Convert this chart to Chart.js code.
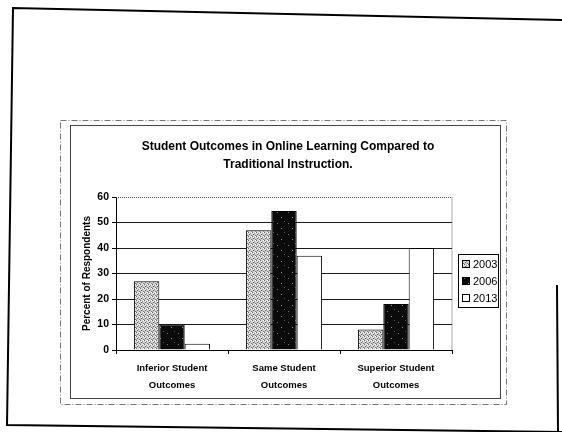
<!DOCTYPE html>
<html>
<head>
<meta charset="utf-8">
<script src="https://cdn.jsdelivr.net/npm/chart.js@4.4.1/dist/chart.umd.min.js"></script>
<style>
    html, body { margin: 0; padding: 0; background: #fff; }
    #outcomesChart { display: block; }
</style>
</head>
<body>
<canvas id="outcomesChart" width="562" height="432"></canvas>
<script>
// Survey results, percent of respondents per year
const categories = [
    ['Inferior Student', 'Outcomes'],
    ['Same Student', 'Outcomes'],
    ['Superior Student', 'Outcomes']
];
const years = ['2003', '2006', '2013'];
const values2003 = [27, 47, 8];
const values2006 = [10, 54.5, 18];
const values2013 = [2.5, 37, 40];
const yTicks = { min: 0, max: 60, step: 10 };
const titleLines = ['Student Outcomes in Online Learning Compared to', 'Traditional Instruction.'];

const FONT = '"Liberation Sans", Arial, sans-serif';

function makePattern(base, dots, size) {
    const c = document.createElement('canvas');
    c.width = size;
    c.height = size;
    const g = c.getContext('2d');
    g.fillStyle = base;
    g.fillRect(0, 0, size, size);
    dots.forEach(([x, y, col]) => {
        g.fillStyle = col;
        g.fillRect(x, y, 1, 1);
    });
    return g.createPattern(c, 'repeat');
}

const ctx = document.getElementById('outcomesChart').getContext('2d');

// stippled grey for 2003, near-black with specks for 2006
const fill2003 = makePattern('#d8d8d8', [
    [0, 0, '#666'], [2, 1, '#888'], [1, 2, '#555'], [3, 3, '#777'],
    [3, 0, '#fff'], [1, 1, '#fff'], [0, 3, '#aaa'], [2, 2, '#bbb']
], 4);
const fill2006 = makePattern('#0b0b0b', [[2, 3, '#777'], [6, 8, '#999'], [9, 1, '#555']], 11);
const fills = [fill2003, fill2006, '#ffffff'];

const framePlugin = {
    id: 'frames',
    beforeDraw(chart) {
        const g = chart.ctx;
        g.save();
        g.fillStyle = '#fff';
        g.fillRect(0, 0, chart.width, chart.height);

        // outer page border
        g.strokeStyle = '#000';
        g.lineWidth = 2;
        g.beginPath();
        g.moveTo(562, 20);
        g.lineTo(13, 8);
        g.lineTo(7, 425);
        g.lineTo(562, 432);
        g.moveTo(557, 285);
        g.lineTo(558, 432);
        g.stroke();

        // chart object borders
        g.lineWidth = 1;
        g.strokeStyle = '#777';
        g.setLineDash([6, 2, 1, 2]);
        g.strokeRect(60.5, 120.5, 446, 284);
        g.setLineDash([]);
        g.strokeStyle = '#444';
        g.strokeRect(70.5, 125.5, 430, 273);
        g.restore();
    },
    afterDatasetsDraw(chart) {
        const a = chart.chartArea;
        const g = chart.ctx;
        g.save();
        g.strokeStyle = '#555';
        g.lineWidth = 1;
        g.setLineDash([1, 1]);
        g.beginPath();
        g.moveTo(a.left, Math.round(a.top) + 0.5);
        g.lineTo(a.right, Math.round(a.top) + 0.5);
        g.lineTo(a.right, a.bottom);
        g.stroke();
        g.restore();
    },
    afterDraw(chart) {
        const g = chart.ctx;
        g.save();
        g.fillStyle = '#000';
        g.textAlign = 'center';
        g.textBaseline = 'middle';
        g.font = 'bold 12px ' + FONT;
        titleLines.forEach((t, i) => g.fillText(t, 288, 147 + i * 18));

        // legend
        g.strokeStyle = '#000';
        g.lineWidth = 1;
        g.strokeRect(458.5, 254.5, 40, 53);
        g.font = '11px ' + FONT;
        g.textAlign = 'left';
        chart.data.datasets.forEach((ds, i) => {
            const y = 264 + i * 17;
            g.fillStyle = ds.backgroundColor;
            g.fillRect(462, y - 4, 8, 8);
            g.strokeRect(462.5, y - 3.5, 7, 7);
            g.fillStyle = '#000';
            g.fillText(ds.label, 473, y + 1);
        });
        g.restore();
    }
};

const datasets = [values2003, values2006, values2013].map((vals, i) => ({
    label: years[i],
    data: vals,
    backgroundColor: fills[i],
    borderColor: '#000',
    borderWidth: 1,
    borderSkipped: 'bottom',
    categoryPercentage: 0.68,
    barPercentage: 1
}));

new Chart(ctx, {
    type: 'bar',
    data: { labels: categories, datasets },
    options: {
        responsive: false,
        animation: false,
        devicePixelRatio: 1,
        layout: { padding: { left: 81, top: 197, right: 110, bottom: 32 } },
        plugins: {
            legend: { display: false },
            tooltip: { enabled: false }
        },
        scales: {
            x: {
                offset: true,
                grid: { drawOnChartArea: false, tickLength: 4, tickColor: '#000' },
                border: { color: '#000', width: 1 },
                ticks: {
                    color: '#000',
                    padding: 6,
                    maxRotation: 0,
                    font: { family: FONT, size: 9.5, weight: 'bold', lineHeight: 1.75 }
                },
                afterFit(scale) { scale.height = 50; }
            },
            y: {
                min: yTicks.min,
                max: yTicks.max,
                grid: {
                    color: c => (c.tick && (c.tick.value === yTicks.max || c.tick.value === 0)) ? 'rgba(0,0,0,0)' : '#1a1a1a',
                    tickColor: '#000',
                    tickLength: 4
                },
                border: { color: '#000', width: 1 },
                ticks: {
                    stepSize: yTicks.step,
                    color: '#000',
                    padding: 3,
                    font: { family: FONT, size: 10.5, weight: 'bold' }
                },
                title: {
                    display: true,
                    text: 'Percent of Respondents',
                    color: '#000',
                    padding: 0,
                    font: { family: FONT, size: 10, weight: 'bold' }
                },
                afterFit(scale) { scale.width = 35; }
            }
        }
    },
    plugins: [framePlugin]
});
</script>
</body>
</html>
